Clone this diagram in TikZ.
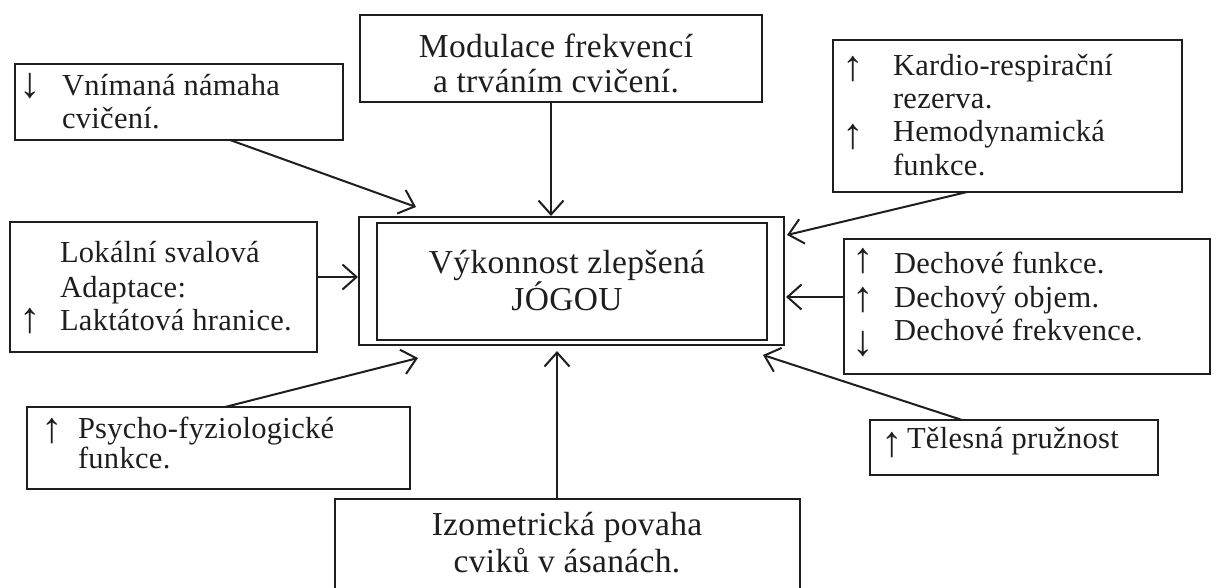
\documentclass[tikz,border=0pt]{standalone}
\usepackage{fontspec}
\setmainfont{Liberation Serif}[LetterSpace=1]
\newfontfamily\arrowfont{Liberation Serif}
\usetikzlibrary{arrows.meta,calc}
\definecolor{ink}{HTML}{1E1E1E}
\tikzset{
  boxnode/.style={draw=ink, line width=2pt, inner sep=0pt, outer sep=0pt, anchor=north west},
  txt/.style={inner sep=0pt, outer sep=0pt, anchor=base west, text=ink, font=\fontsize{30.5}{34}\selectfont},
  bigtxt/.style={inner sep=0pt, outer sep=0pt, anchor=base, text=ink, font=\fontsize{33.5}{37}\selectfont},
  sym/.style={inner sep=0pt, outer sep=0pt, anchor=center, text=ink, font=\arrowfont\fontsize{43}{43}\selectfont},
  conn/.style={draw=ink, line width=2pt, -{Straight Barb[length=14pt,width=25pt,line width=2pt]}}
}
\begin{document}
\begin{tikzpicture}[x=1pt,y=-1pt]
\useasboundingbox (0,0) rectangle (1218,587);
\clip (0,0) rectangle (1218,587);

% boxes
\node[boxnode, minimum width=402pt, minimum height=87pt] (modbox) at (360,15) {};
\node[boxnode, minimum width=328pt, minimum height=76pt] (vnbox) at (15,64) {};
\node[boxnode, minimum width=307pt, minimum height=130pt] (lokbox) at (10,222) {};
\node[boxnode, minimum width=425pt, minimum height=128pt] (outer) at (359,217) {};
\node[boxnode, minimum width=390pt, minimum height=117pt] (inner) at (377,223) {};
\node[boxnode, minimum width=349pt, minimum height=152pt] (kardbox) at (833,40) {};
\node[boxnode, minimum width=366pt, minimum height=135pt] (dechbox) at (844,239) {};
\node[boxnode, minimum width=383pt, minimum height=82pt] (psybox) at (27,407) {};
\node[boxnode, minimum width=465pt, minimum height=130pt] (izobox) at (335,499) {};
\node[boxnode, minimum width=288pt, minimum height=55pt] (telbox) at (870,420) {};

% texts
\node[bigtxt] (mod1) at (556,57) {Modulace frekvencí};
\node[bigtxt] (mod2) at (556,92) {a trváním cvičení.};

\node[sym] (vnA) at (30,86) {↓};
\node[txt] (vn1) at (62,95) {Vnímaná námaha};
\node[txt] (vn2) at (62,128) {cvičení.};

\node[txt] (lok1) at (60,262) {Lokální svalová};
\node[txt] (lok2) at (60,297) {Adaptace:};
\node[sym] (lokA) at (30,321) {↑};
\node[txt] (lok3) at (60,330) {Laktátová hranice.};

\node[bigtxt] (c1) at (567,273) {Výkonnost zlepšená};
\node[bigtxt] (c2) at (567,310) {JÓGOU};

\node[sym] (kA1) at (853,69) {↑};
\node[txt] (k1) at (893,75) {Kardio-respirační};
\node[txt] (k2) at (893,108) {rezerva.};
\node[sym] (kA2) at (853,137) {↑};
\node[txt] (k3) at (893,141) {Hemodynamická};
\node[txt] (k4) at (893,175) {funkce.};

\node[sym] (dA1) at (863,261) {↑};
\node[txt] (d1) at (894,273) {Dechové funkce.};
\node[sym] (dA2) at (863,300) {↑};
\node[txt] (d2) at (894,307) {Dechový objem.};
\node[sym] (dA3) at (863,344) {↓};
\node[txt] (d3) at (894,340) {Dechové frekvence.};

\node[sym] (pA) at (52,431) {↑};
\node[txt] (p1) at (78,438) {Psycho-fyziologické};
\node[txt] (p2) at (78,468) {funkce.};

\node[sym] (tA) at (892,445) {↑};
\node[txt] (t1) at (907,448) {Tělesná pružnost};

\node[bigtxt] (i1) at (567,535) {Izometrická povaha};
\node[bigtxt] (i2) at (567,572) {cviků v ásanách.};

% arrow tips near the central box
\coordinate (tipV) at (416,207);
\coordinate (tipM) at (551,216);
\coordinate (tipL) at (358,277);
\coordinate (tipK) at (787,235);
\coordinate (tipD) at (786,297);
\coordinate (tipT) at (763,355);
\coordinate (tipP) at (418,358);
\coordinate (tipI) at (557,351);

% connectors
\draw[conn] ([xshift=215pt]vnbox.south west) -- (tipV);
\draw[conn] ([xshift=191pt]modbox.south west) -- (tipM);
\draw[conn] (lokbox.east |- tipL) -- (tipL);
\draw[conn] ([xshift=134pt]kardbox.south west) -- (tipK);
\draw[conn] (dechbox.west |- tipD) -- (tipD);
\draw[conn] ([xshift=92pt]telbox.north west) -- (tipT);
\draw[conn] ([xshift=198pt]psybox.north west) -- (tipP);
\draw[conn] ([xshift=222pt]izobox.north west) -- (tipI);
\end{tikzpicture}
\end{document}
